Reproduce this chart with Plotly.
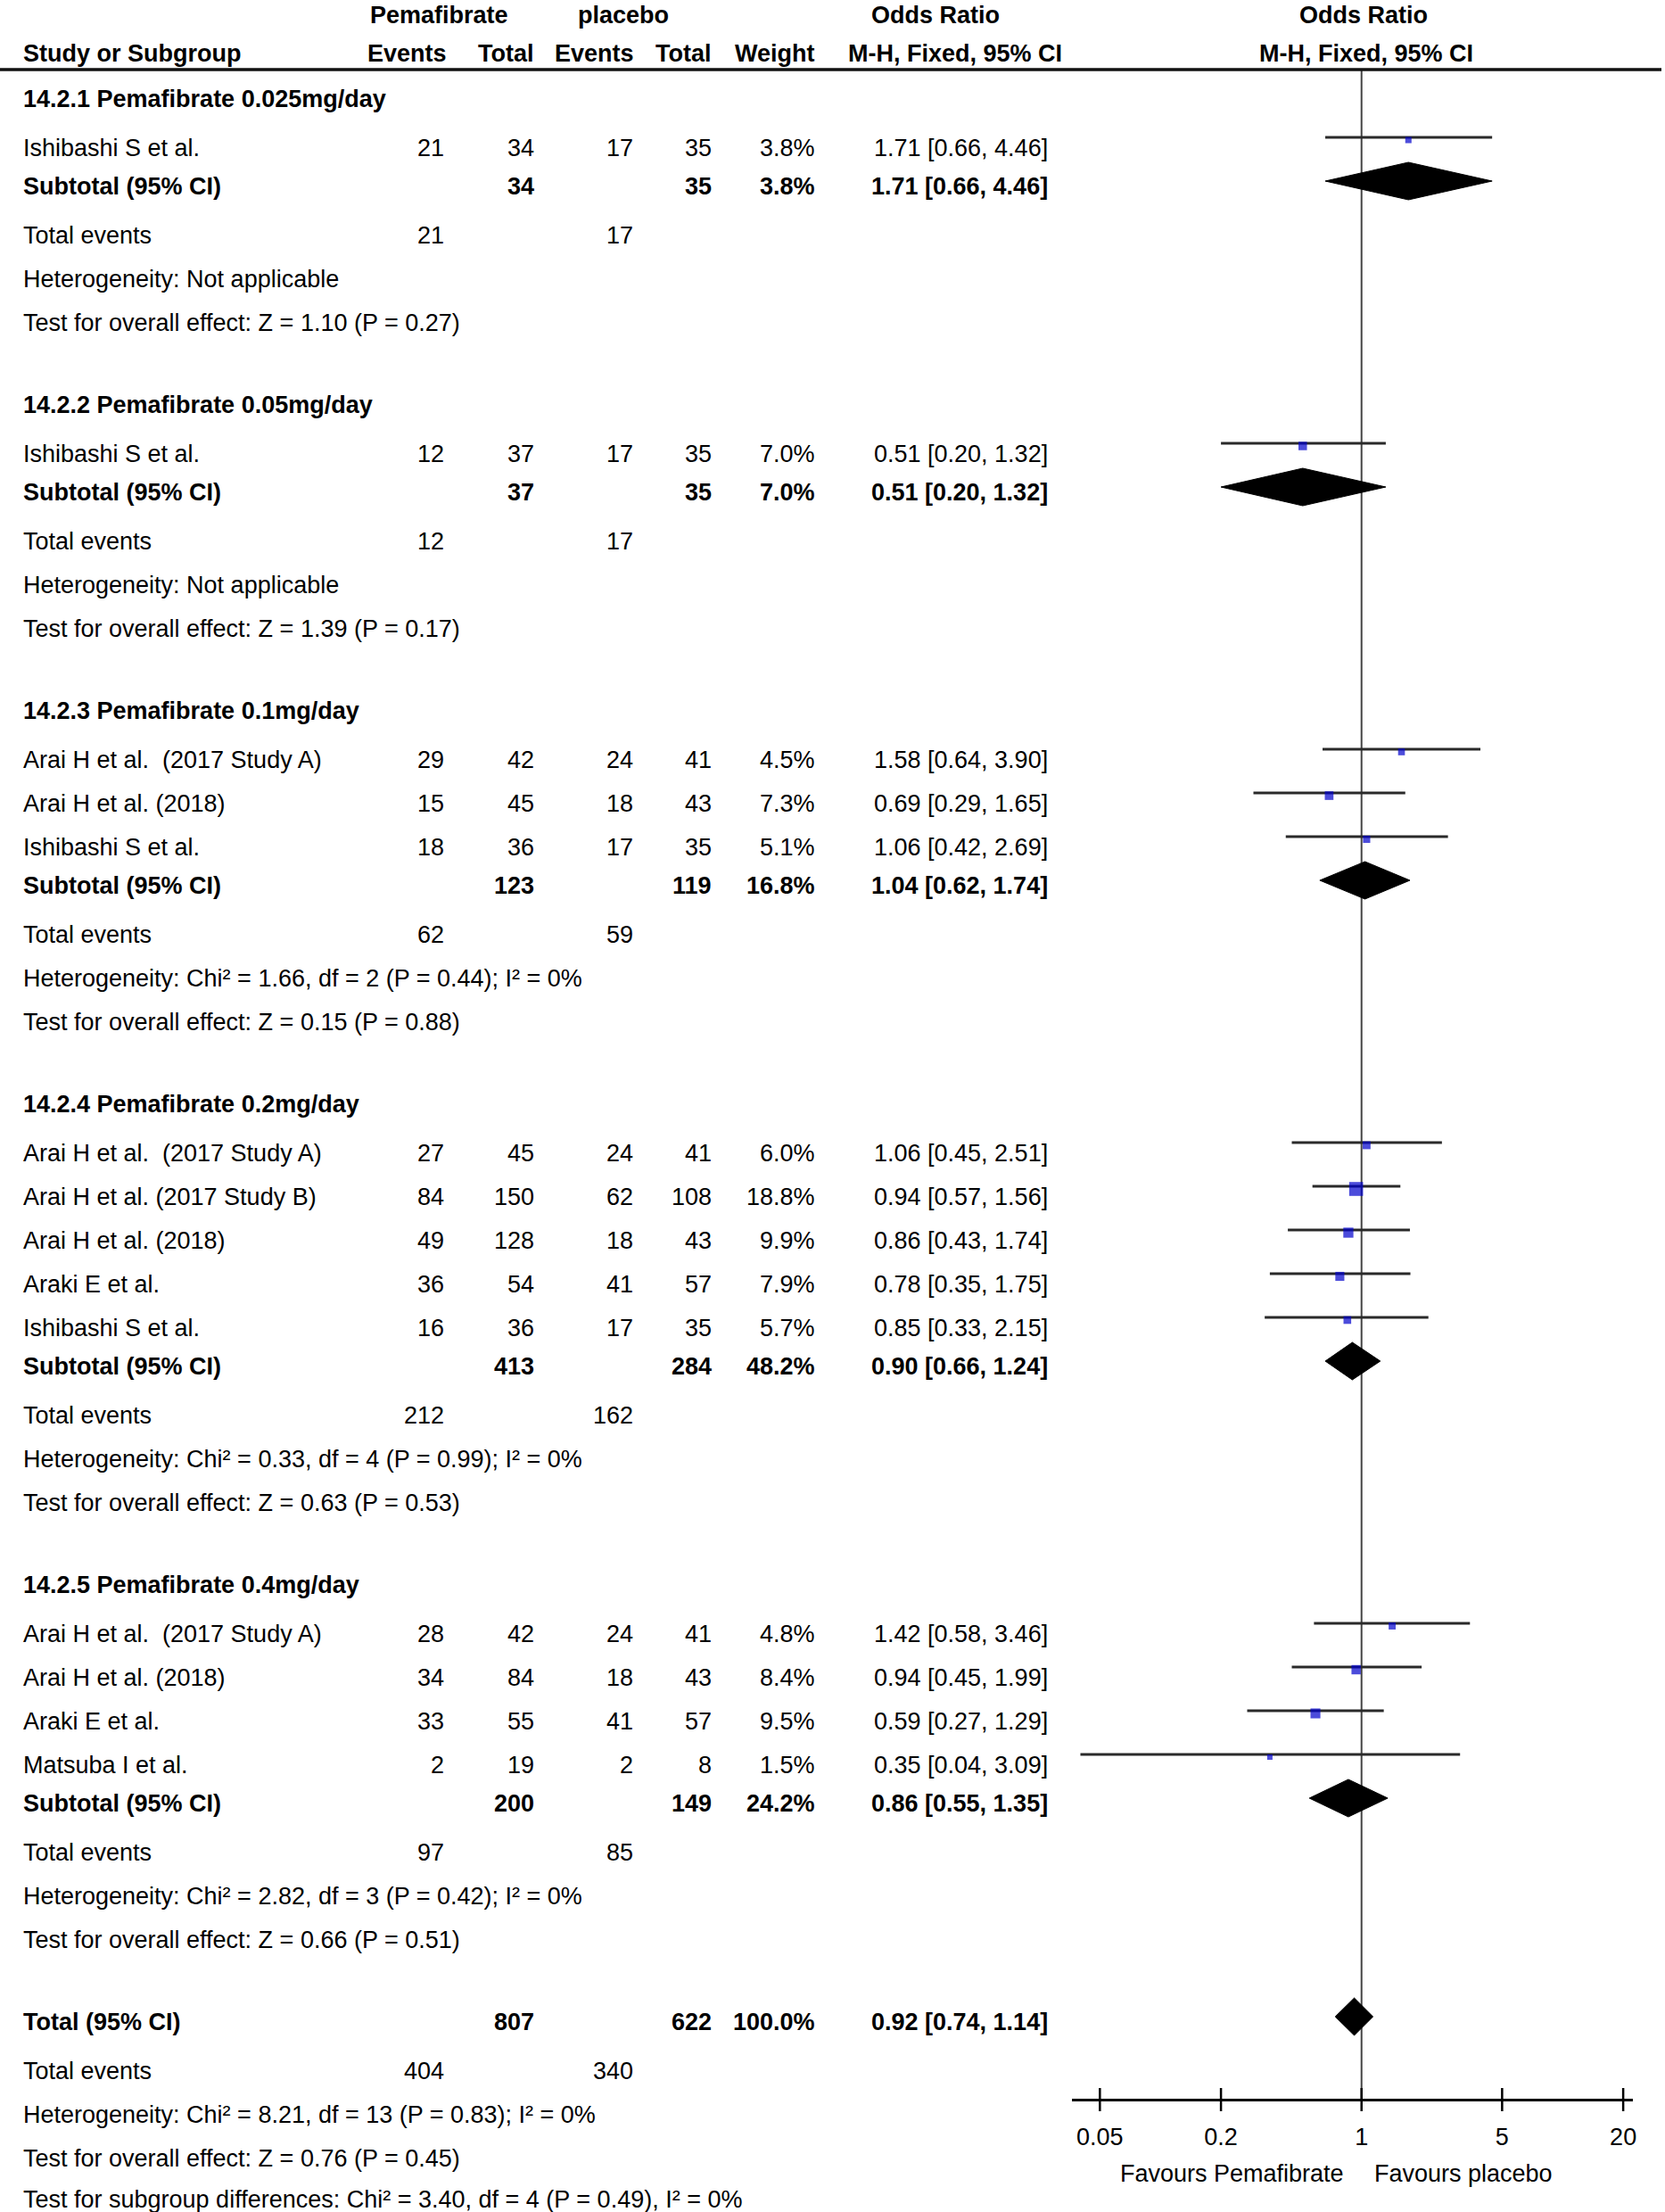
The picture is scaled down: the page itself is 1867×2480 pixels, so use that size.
import plotly.graph_objects as go
import math

# ---------------- data ----------------
group_titles = [
    "14.2.1 Pemafibrate 0.025mg/day",
    "14.2.2 Pemafibrate 0.05mg/day",
    "14.2.3 Pemafibrate 0.1mg/day",
    "14.2.4 Pemafibrate 0.2mg/day",
    "14.2.5 Pemafibrate 0.4mg/day",
]
study_names = [
    "Ishibashi S et al.",
    "Ishibashi S et al.",
    "Arai H et al.\u00a0 (2017 Study A)", "Arai H et al. (2018)", "Ishibashi S et al.",
    "Arai H et al.\u00a0 (2017 Study A)", "Arai H et al. (2017 Study B)", "Arai H et al. (2018)",
    "Araki E et al.", "Ishibashi S et al.",
    "Arai H et al.\u00a0 (2017 Study A)", "Arai H et al. (2018)", "Araki E et al.", "Matsuba I et al.",
]
study_group = [0, 1, 2, 2, 2, 3, 3, 3, 3, 3, 4, 4, 4, 4]
exp_events = [21, 12, 29, 15, 18, 27, 84, 49, 36, 16, 28, 34, 33, 2]
exp_total = [34, 37, 42, 45, 36, 45, 150, 128, 54, 36, 42, 84, 55, 19]
ctl_events = [17, 17, 24, 18, 17, 24, 62, 18, 41, 17, 24, 18, 41, 2]
ctl_total = [35, 35, 41, 43, 35, 41, 108, 43, 57, 35, 41, 43, 57, 8]
weights = [3.8, 7.0, 4.5, 7.3, 5.1, 6.0, 18.8, 9.9, 7.9, 5.7, 4.8, 8.4, 9.5, 1.5]
or_est = [1.71, 0.51, 1.58, 0.69, 1.06, 1.06, 0.94, 0.86, 0.78, 0.85, 1.42, 0.94, 0.59, 0.35]
or_lo = [0.66, 0.20, 0.64, 0.29, 0.42, 0.45, 0.57, 0.43, 0.35, 0.33, 0.58, 0.45, 0.27, 0.04]
or_hi = [4.46, 1.32, 3.90, 1.65, 2.69, 2.51, 1.56, 1.74, 1.75, 2.15, 3.46, 1.99, 1.29, 3.09]

sub_exp_total = [34, 37, 123, 413, 200]
sub_ctl_total = [35, 35, 119, 284, 149]
sub_weight = [3.8, 7.0, 16.8, 48.2, 24.2]
sub_or = [1.71, 0.51, 1.04, 0.90, 0.86]
sub_lo = [0.66, 0.20, 0.62, 0.66, 0.55]
sub_hi = [4.46, 1.32, 1.74, 1.24, 1.35]
sub_exp_events = [21, 12, 62, 212, 97]
sub_ctl_events = [17, 17, 59, 162, 85]
sub_het = [
    "Heterogeneity: Not applicable",
    "Heterogeneity: Not applicable",
    "Heterogeneity: Chi² = 1.66, df = 2 (P = 0.44); I² = 0%",
    "Heterogeneity: Chi² = 0.33, df = 4 (P = 0.99); I² = 0%",
    "Heterogeneity: Chi² = 2.82, df = 3 (P = 0.42); I² = 0%",
]
sub_test = [
    "Test for overall effect: Z = 1.10 (P = 0.27)",
    "Test for overall effect: Z = 1.39 (P = 0.17)",
    "Test for overall effect: Z = 0.15 (P = 0.88)",
    "Test for overall effect: Z = 0.63 (P = 0.53)",
    "Test for overall effect: Z = 0.66 (P = 0.51)",
]

total_exp_total = 807
total_ctl_total = 622
total_weight = 100.0
total_or = 0.92
total_lo = 0.74
total_hi = 1.14
total_exp_events = 404
total_ctl_events = 340
total_het = "Heterogeneity: Chi² = 8.21, df = 13 (P = 0.83); I² = 0%"
total_test = "Test for overall effect: Z = 0.76 (P = 0.45)"
subgroup_test = "Test for subgroup differences: Chi² = 3.40, df = 4 (P = 0.49), I² = 0%"

tick_vals = [0.05, 0.2, 1, 5, 20]
tick_text = ["0.05", "0.2", "1", "5", "20"]
favours_left = "Favours Pemafibrate"
favours_right = "Favours placebo"

# ---------------- layout constants ----------------
W, H = 1867, 2480
FONT = "Liberation Sans, Arial, Helvetica, sans-serif"
FS = 27
PX_DEC = 226.0          # pixels per decade on the OR axis
X_ONE = 1530.0          # pixel of OR = 1
AX_L, AX_R = 1205.0, 1835.0
AX_Y = 2354.0
HDR_LINE_Y = 78

COL_NAME = 24
COL_EE = 501
COL_ET = 602
COL_CE = 714
COL_CT = 802
COL_W = 918
COL_OR = 1180

annotations = []


def txt(x, y, s, anchor="left", bold=False, size=FS):
    annotations.append(dict(
        x=x / W, y=y, xref="paper", yref="y", text=(f"<b>{s}</b>" if bold else s),
        showarrow=False, xanchor=anchor, yanchor="middle",
        font=dict(family=FONT, size=size, color="black"),
    ))


def fmt_or(e, l, h):
    return f"{e:.2f} [{l:.2f}, {h:.2f}]"


# headers
HY1 = 17
txt(494, HY1, "Pemafibrate", "center", True)
txt(700, HY1, "placebo", "center", True)
txt(1051, HY1, "Odds Ratio", "center", True)
txt(1532, HY1, "Odds Ratio", "center", True)
txt(COL_NAME, 60, "Study or Subgroup", "left", True)
txt(COL_EE + 3, 60, "Events", "right", True)
txt(COL_ET, 60, "Total", "right", True)
txt(COL_CE + 1, 60, "Events", "right", True)
txt(COL_CT, 60, "Total", "right", True)
txt(COL_W, 60, "Weight", "right", True)
txt(1073, 60, "M-H, Fixed, 95% CI", "center", True)
txt(1535, 60, "M-H, Fixed, 95% CI", "center", True)

ci_x, ci_y = [], []
mk_x, mk_y, mk_s = [], [], []
diamonds = []

y = 111
for g, title in enumerate(group_titles):
    txt(COL_NAME, y, title, "left", True)
    y += 55
    idx = [i for i, sg in enumerate(study_group) if sg == g]
    for k, i in enumerate(idx):
        if k > 0:
            y += 49
        txt(COL_NAME, y, study_names[i])
        txt(COL_EE, y, str(exp_events[i]), "right")
        txt(COL_ET, y, str(exp_total[i]), "right")
        txt(COL_CE, y, str(ctl_events[i]), "right")
        txt(COL_CT, y, str(ctl_total[i]), "right")
        txt(COL_W, y, f"{weights[i]:.1f}%", "right")
        txt(COL_OR, y, fmt_or(or_est[i], or_lo[i], or_hi[i]), "right")
        ci_x += [or_lo[i], or_hi[i], None]
        ci_y += [y - 12, y - 12, None]
        mk_x.append(or_est[i])
        mk_y.append(y - 9)
        mk_s.append(max(6, 3.6 * math.sqrt(weights[i])))
    y += 43
    txt(COL_NAME, y, "Subtotal (95% CI)", "left", True)
    txt(COL_ET, y, str(sub_exp_total[g]), "right", True)
    txt(COL_CT, y, str(sub_ctl_total[g]), "right", True)
    txt(COL_W, y, f"{sub_weight[g]:.1f}%", "right", True)
    txt(COL_OR, y, fmt_or(sub_or[g], sub_lo[g], sub_hi[g]), "right", True)
    diamonds.append((sub_lo[g], sub_or[g], sub_hi[g], y - 6))
    y += 55
    txt(COL_NAME, y, "Total events")
    txt(COL_EE, y, str(sub_exp_events[g]), "right")
    txt(COL_CE, y, str(sub_ctl_events[g]), "right")
    y += 49
    txt(COL_NAME, y, sub_het[g])
    y += 49
    txt(COL_NAME, y, sub_test[g])
    y += 92

# overall
txt(COL_NAME, y, "Total (95% CI)", "left", True)
txt(COL_ET, y, str(total_exp_total), "right", True)
txt(COL_CT, y, str(total_ctl_total), "right", True)
txt(COL_W, y, f"{total_weight:.1f}%", "right", True)
txt(COL_OR, y, fmt_or(total_or, total_lo, total_hi), "right", True)
diamonds.append((total_lo, total_or, total_hi, y - 6))
y += 55
txt(COL_NAME, y, "Total events")
txt(COL_EE, y, str(total_exp_events), "right")
txt(COL_CE, y, str(total_ctl_events), "right")
y += 49
txt(COL_NAME, y, total_het)
y += 49
txt(COL_NAME, y, total_test)
y += 46
txt(COL_NAME, y, subgroup_test)

# favours labels
txt(1512, 2437, favours_left, "right")
txt(1542, 2437, favours_right, "left")

fig = go.Figure()

# null line
fig.add_trace(go.Scatter(x=[1, 1], y=[HDR_LINE_Y, AX_Y], mode="lines",
                         line=dict(color="#444444", width=2), hoverinfo="skip"))

# CI lines
fig.add_trace(go.Scatter(x=ci_x, y=ci_y, mode="lines",
                         line=dict(color="#2a2a2a", width=3), hoverinfo="skip"))

# study boxes
fig.add_trace(go.Scatter(x=mk_x, y=mk_y, mode="markers",
                         marker=dict(symbol="square", size=mk_s, color="#0000CC",
                                     line=dict(width=0)), hoverinfo="skip"))

# diamonds
DH = 21
for lo, est, hi, yc in diamonds:
    fig.add_trace(go.Scatter(x=[lo, est, hi, est, lo], y=[yc, yc - DH, yc, yc + DH, yc],
                             mode="lines", fill="toself", fillcolor="black",
                             line=dict(color="black", width=1), hoverinfo="skip"))

# axis tick marks (cross the axis line)
tx, ty = [], []
for v in tick_vals:
    tx += [v, v, None]
    ty += [AX_Y - 13, AX_Y + 13, None]
fig.add_trace(go.Scatter(x=tx, y=ty, mode="lines", line=dict(color="black", width=2.5),
                         hoverinfo="skip", cliponaxis=False))

# header rule
shapes = [dict(type="line", xref="paper", yref="y", x0=0, x1=1, y0=HDR_LINE_Y, y1=HDR_LINE_Y,
               line=dict(color="#111111", width=3.5))]

fig.update_layout(
    width=W, height=H, autosize=False,
    margin=dict(l=0, r=0, t=0, b=0),
    paper_bgcolor="white", plot_bgcolor="rgba(0,0,0,0)",
    showlegend=False,
    annotations=annotations,
    shapes=shapes,
    xaxis=dict(
        type="log",
        domain=[AX_L / W, AX_R / W],
        range=[(AX_L - X_ONE) / PX_DEC, (AX_R - X_ONE) / PX_DEC],
        anchor="free", position=(H - AX_Y) / H,
        showline=True, linecolor="black", linewidth=2.5,
        showgrid=False, zeroline=False,
        tickvals=tick_vals, ticktext=tick_text,
        ticks="outside", ticklen=17, tickcolor="rgba(0,0,0,0)",
        tickfont=dict(family=FONT, size=FS, color="black"),
        fixedrange=True,
    ),
    yaxis=dict(
        range=[H, 0], domain=[0, 1], visible=False, showgrid=False, zeroline=False,
        fixedrange=True,
    ),
)

fig.write_html("out.html", config={"displayModeBar": False, "staticPlot": True},
               post_script="document.body.style.margin='0';")
